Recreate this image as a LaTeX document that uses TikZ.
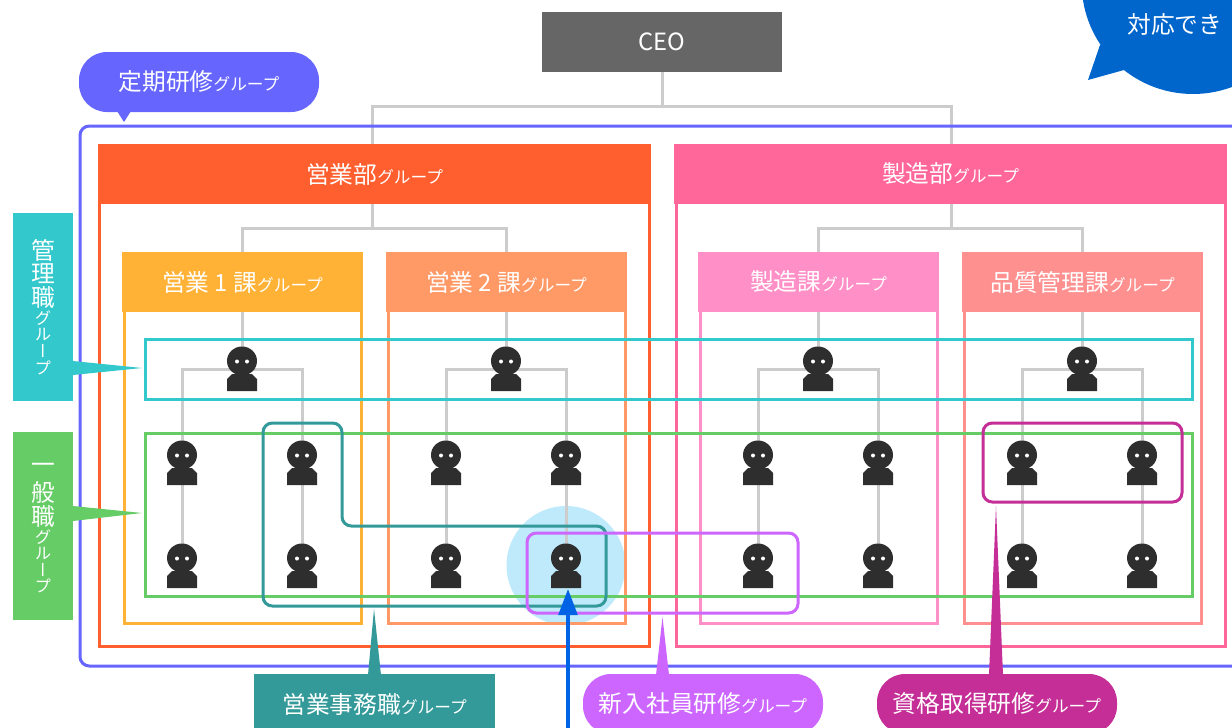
\documentclass[tikz,border=0pt]{standalone}
\usepackage{fontspec}
\setmainfont{Noto Sans CJK JP}
\newfontfamily\vertfont[RawFeature=+vert]{Noto Sans CJK JP}
\usetikzlibrary{calc,arrows.meta}
\definecolor{cviolet}{HTML}{6666FF}
\definecolor{corange}{HTML}{FF5F2E}
\definecolor{cpink}{HTML}{FF6699}
\definecolor{cyellow}{HTML}{FFB236}
\definecolor{csalmon}{HTML}{FF9966}
\definecolor{clpink}{HTML}{FF8FC7}
\definecolor{crose}{HTML}{FF9090}
\definecolor{cteal}{HTML}{33C9CC}
\definecolor{cgreen}{HTML}{66CC66}
\definecolor{cdteal}{HTML}{339999}
\definecolor{cpurple}{HTML}{CC66FF}
\definecolor{cmag}{HTML}{C42E96}
\definecolor{cblue}{HTML}{0066CC}
\definecolor{carrow}{HTML}{0063E6}
\definecolor{cgrey}{HTML}{CCCCCC}
\definecolor{cdark}{HTML}{2E2E2E}
\def\u{0.75pt}
\newcommand{\bigt}{\fontsize{17.8pt}{22pt}\selectfont}
\newcommand{\sml}{\fontsize{12.5pt}{15pt}\selectfont}
\newcommand{\vb}[1]{\hbox to 24pt{\hss\vbox to 18pt{\vss\hbox{\bigt #1}\vss}\hss}}
\newcommand{\vs}[1]{\hbox to 24pt{\hss\vbox to 12.4pt{\vss\hbox{\sml\vertfont #1}\vss}\hss}}
\tikzset{
  x=0.75pt,y=-0.75pt,
  conn/.style={draw=cgrey,line width=2.25pt},
  frame/.style={line width=2.25pt},
  hdr/.style={inner sep=0pt,text=white,minimum width=241*\u,minimum height=60*\u,font=\bigt},
  dept/.style={hdr,minimum width=553*\u},
  pill/.style={hdr,rounded corners=21pt,minimum width=240*\u},
  side/.style={hdr,minimum width=60*\u,minimum height=188*\u},
  personbox/.style={inner sep=0pt,minimum size=1pt},
  personpic/.pic={
    \fill[cdark] (0,0) ellipse [x radius=15,y radius=14.5];
    \fill[cdark] (-15,30) -- (-15,18) -- (-10,13) -- (10,13) -- (15,18) -- (15,30) -- cycle;
    \fill[white] (-5,0.5) circle (2) (5,0.5) circle (2);
  }
}
\begin{document}
\begin{tikzpicture}
\useasboundingbox (0,0) rectangle (1232,728);
\clip (0,0) rectangle (1232,728);
% highlight
\fill[cyan!25!white] (566,565.5) circle (59.5);
% coordinates and persons
\coordinate (ceoj) at (662,106);
\coordinate (l2) at (372,144);
\coordinate (r2) at (951,144);
\node[personbox] (m1) at (242,361) {};
\node[personbox] (m2) at (506,361) {};
\node[personbox] (m3) at (818,361) {};
\node[personbox] (m4) at (1082,361) {};
\foreach \n/\x in {1/182,2/302,3/446,4/566,5/758,6/878,7/1022,8/1142}{
  \node[personbox] (a\n) at (\x,455) {};
  \node[personbox] (b\n) at (\x,558) {};
}
% connectors
\node[fill=black!60,inner sep=0pt,text=white,minimum width=240*\u,minimum height=60*\u,font=\bigt] (ceo) at (662,41.5) {CEO};
\draw[conn] (ceo.south) -- (ceoj);
\draw[conn] (l2) |- (ceoj) -| (r2);
\draw[conn] (372,200) -- (372,228) coordinate (j1);
\draw[conn] (242,252) |- (j1) -| (506,252);
\draw[conn] (951,200) -- (951,228) coordinate (j2);
\draw[conn] (818,252) |- (j2) -| (1082,252);
\foreach \m/\p/\q in {1/1/2,2/3/4,3/5/6,4/7/8}{
  \draw[conn] (m\m.center) -- ++(0,-55);
  \draw[conn] (a\p.center) |- ($(m\m.center)+(0,8)$) -| (a\q.center);
  \draw[conn] (a\p.center) -- (b\p.center);
  \draw[conn] (a\q.center) -- (b\q.center);
}
% frames
\draw[frame,draw=cviolet,rounded corners=7pt] (80,126) rectangle (1260,666);
\draw[frame,draw=corange] (99.5,200) rectangle (649.5,646);
\draw[frame,draw=cpink] (676,200) rectangle (1225.5,646);
\draw[frame,draw=cyellow] (124,300) rectangle (361,623);
\draw[frame,draw=csalmon] (388,300) rectangle (625.5,623);
\draw[frame,draw=clpink] (700,300) rectangle (937.5,623);
\draw[frame,draw=crose] (964,300) rectangle (1201.5,623);
% headers
\node[dept,fill=corange] (sales) at (374.5,174) {営業部{\sml グループ}};
\node[dept,fill=cpink] (mfg) at (950.5,174) {製造部{\sml グループ}};
\node[hdr,fill=cyellow] (s1) at (242.5,282) {営業 1 課{\sml グループ}};
\node[hdr,fill=csalmon] (s2) at (506.5,282) {営業 2 課{\sml グループ}};
\node[hdr,fill=clpink] (s3) at (818.5,282) {製造課{\sml グループ}};
\node[hdr,fill=crose] (s4) at (1082.5,282) {品質管理課{\sml グループ}};
% people
\foreach \n in {m1,m2,m3,m4,a1,a2,a3,a4,a5,a6,a7,a8,b1,b2,b3,b4,b5,b6,b7,b8}{
  \path (\n.center) pic {personpic};
}
% bands
\draw[frame,draw=cteal] (145,339.5) rectangle (1192,399.5);
\draw[frame,draw=cgreen] (145,433.5) rectangle (1192,596.5);
\draw[frame,draw=cdteal,rounded corners=7pt] (263,423) -- (342,423) -- (342,526) -- (606,526) -- (606,606) -- (263,606) -- cycle;
\draw[frame,draw=cpurple,rounded corners=7pt] (527,533) rectangle (798,613);
\draw[frame,draw=cmag,rounded corners=7pt] (983,423) rectangle (1182,502);
% side labels
\node[side,fill=cteal] (mgr) at (43,307) {\vbox{\offinterlineskip\vb{管}\vb{理}\vb{職}\vs{グ}\vs{ル}\vs{ー}\vs{プ}}};
\node[side,fill=cgreen] (gen) at (43,525.5) {\vbox{\offinterlineskip\vb{一}\vb{般}\vb{職}\vs{グ}\vs{ル}\vs{ー}\vs{プ}}};
\fill[cteal] (73,361) -- (142,368) -- (73,375) -- cycle;
\fill[cgreen] (73,506) -- (142,513) -- (73,521) -- cycle;
% top bubble
\node[pill,fill=cviolet] (reg) at (199,82) {定期研修{\sml グループ}};
\fill[cviolet] (117,111) -- (124,122) -- (131,111) -- cycle;
% bottom labels
\fill[cdteal] (368,675) -- (374,609) -- (381,675) -- cycle;
\fill[cpurple] (656,675) -- (662.5,617) -- (669,675) -- cycle;
\fill[cmag] (989,675) -- (996,506) -- (1003,675) -- cycle;
\node[hdr,fill=cdteal,minimum height=60*\u] (off) at (374.5,704) {営業事務職{\sml グループ}};
\node[pill,fill=cpurple] (new) at (703,704) {新入社員研修{\sml グループ}};
\node[pill,fill=cmag] (cert) at (997,704) {資格取得研修{\sml グループ}};
% blue arrow
\coordinate (arrS) at (568,740);
\coordinate (arrE) at (568,589);
\draw[draw=carrow,line width=2.6pt,-{Triangle[length=19.5pt,width=14pt]}] (arrS) -- (arrE);
% speech bubble
\fill[cblue] (1193,-17.4) circle (111.4);
\fill[cblue] (1100,45) -- (1088,80) -- (1124,70) -- (1180,50) -- cycle;
\node[anchor=west,inner sep=0pt,text=white,font=\bigt] (say) at (1127,24.5) {対応でき};
\end{tikzpicture}
\end{document}
